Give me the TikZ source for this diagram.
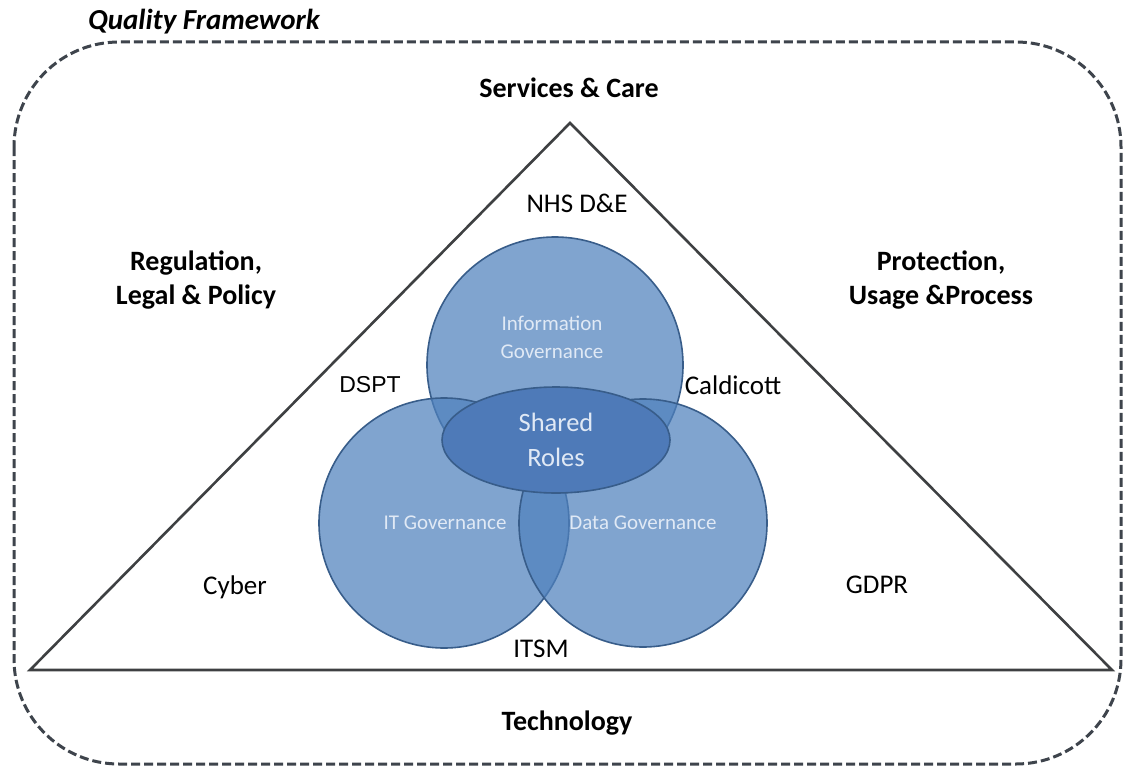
\documentclass[tikz,border=0pt]{standalone}
\usepackage{fontspec}
\setmainfont{Carlito}
\newfontfamily\arialfont{Liberation Sans}
\usetikzlibrary{shapes.geometric}
\definecolor{venn-fill}{RGB}{79,129,189}
\definecolor{venn-line}{RGB}{56,93,138}
\definecolor{venn-core}{RGB}{78,122,184}
\definecolor{venn-text}{RGB}{224,233,245}
\definecolor{frame-line}{RGB}{62,68,76}
\definecolor{tri-line}{RGB}{62,64,66}

\tikzset{
  venn/.style={circle, draw=venn-line, line width=1.6pt, fill=venn-fill, fill opacity=0.72, draw opacity=1},
  venntext/.style={text=venn-text, align=center, font=\fontsize{21}{28}\selectfont},
  corner/.style={font=\fontsize{28}{34}\selectfont\bfseries, align=center},
  item/.style={font=\fontsize{27}{32}\selectfont}
}

\begin{document}
\begin{tikzpicture}[x=1pt, y=-1pt, every node/.style={inner sep=0pt}]
  \useasboundingbox (0,0) rectangle (1124,768);

  % dashed frame and its title
  \draw[frame-line, line width=3pt, dash pattern=on 9pt off 4pt, rounded corners=105pt] (14,42) rectangle (1121,764);
  \node[anchor=west, font=\fontsize{29}{32}\selectfont\bfseries\itshape] (title) at (88,22) {Quality Framework};

  % triangle
  \coordinate (apex) at (570,123);
  \coordinate (left) at (30,670);
  \coordinate (right) at (1112,670);
  \draw[tri-line, line width=2.6pt, line join=miter] (apex) -- (left) -- (right) -- cycle;

  % three circles and the shared core
  \node[venn, minimum size=256pt] (info) at (555,365) {};
  \node[venn, minimum size=250pt] (itgov) at (444,523) {};
  \node[venn, minimum size=248pt] (datagov) at (643,523) {};
  \node[ellipse, draw=venn-line, line width=1.6pt, fill=venn-core, minimum width=228pt, minimum height=106pt] (shared) at (556,440) {};

  \node[venntext] (infolbl) at (552,337) {Information\\Governance};
  \node[venntext] (itlbl) at (445,523) {IT Governance};
  \node[venntext] (datalbl) at (643,523) {Data Governance};
  \node[venntext, font=\fontsize{26.5}{35}\selectfont] (sharedlbl) at (556,440) {Shared\\Roles};

  % labels on the sides
  \node[corner] (services) at (569,88) {Services \& Care};
  \node[corner] (regulation) at (196,280) {Regulation,\\Legal \& Policy};
  \node[corner] (protection) at (941,280) {Protection,\\Usage \&Process};
  \node[corner] (technology) at (567,723) {Technology};

  % standards
  \node[item] (nhs) at (577,203) {NHS D\&E};
  \node[font=\fontsize{23}{28}\selectfont\arialfont] (dspt) at (370,385) {DSPT};
  \node[item] (caldicott) at (733,385) {Caldicott};
  \node[item] (cyber) at (235,587) {Cyber};
  \node[item] (gdpr) at (877,585) {GDPR};
  \node[item] (itsm) at (541,649) {ITSM};
\end{tikzpicture}
\end{document}
